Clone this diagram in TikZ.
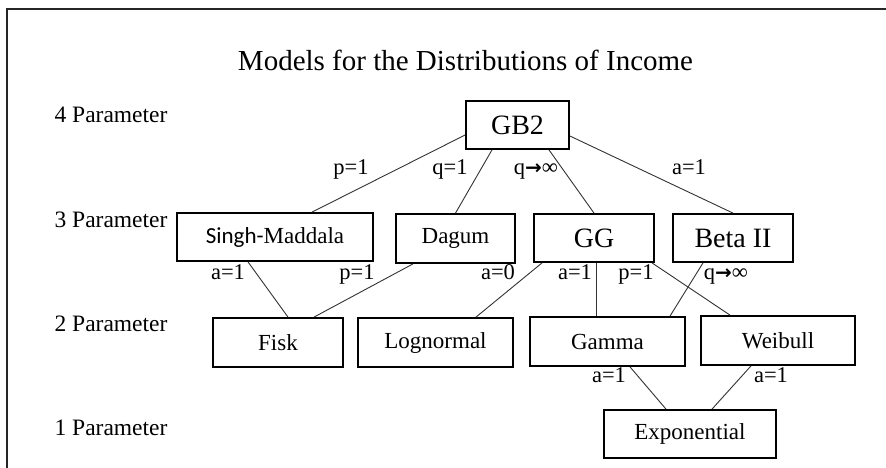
\documentclass[tikz,border=0pt]{standalone}
\usepackage{fontspec}
\setmainfont{Liberation Serif}
\newfontfamily\carlito{Carlito}
\newfontfamily\arrowfont{DejaVu Sans Bold}
\newcommand{\qarrow}{{\arrowfont\fontsize{20}{24}\selectfont →}}
\usetikzlibrary{calc}
\tikzset{
  box/.style={draw=black, line width=1.8pt, inner sep=0pt, font=\fontsize{23}{27}\selectfont},
  bigbox/.style={box, font=\fontsize{28}{32}\selectfont},
  conn/.style={draw=black!80, line width=0.9pt},
  elabel/.style={anchor=base, inner sep=0pt, font=\fontsize{22.5}{26}\selectfont},
  rowlabel/.style={anchor=base, inner sep=0pt, font=\fontsize{23.5}{27}\selectfont},
  frame/.style={draw=black!85, line width=2pt}
}
\begin{document}
\begin{tikzpicture}[x=1pt,y=-1pt]
\path[use as bounding box, fill=white] (0,0) rectangle (886,468);
\draw[frame] (890,9) -- (7,9) -- (7,472);

\node[anchor=base, inner sep=0pt, font=\fontsize{29}{33}\selectfont] (title) at (465.5,71) {Models for the Distributions of Income};

\node[rowlabel] (r4) at (111,123) {4 Parameter};
\node[rowlabel] (r3) at (111,227) {3 Parameter};
\node[rowlabel] (r2) at (111,331) {2 Parameter};
\node[rowlabel] (r1) at (111,435) {1 Parameter};

\node[bigbox, minimum width=103pt, minimum height=48pt] (gb2) at (517.5,125) {GB2};
\node[box, minimum width=196pt, minimum height=48pt] (singh) at (275,237) {{\carlito Singh-}Maddala};
\node[box, minimum width=119pt, minimum height=49pt] (dagum) at (455.5,238.5) {Dagum};
\node[bigbox, minimum width=120pt, minimum height=48pt] (gg) at (594,238) {GG};
\node[bigbox, minimum width=120pt, minimum height=48pt] (beta) at (733,238) {Beta II};
\node[box, minimum width=130pt, minimum height=49pt] (fisk) at (278,342.5) {Fisk};
\node[box, minimum width=155pt, minimum height=49pt] (logn) at (435.5,342.5) {Lognormal};
\node[box, minimum width=155pt, minimum height=49pt] (gamma) at (607.5,341.5) {Gamma};
\node[box, minimum width=154pt, minimum height=49pt] (weib) at (778,340.5) {Weibull};
\node[box, minimum width=172pt, minimum height=48pt] (expo) at (690,434) {Exponential};

\draw[conn] ($(gb2.west)+(0,10)$) -- ($(singh.north)+(37,0)$);
\draw[conn] ($(gb2.south)+(-25.5,0)$) -- (dagum.north);
\draw[conn] ($(gb2.south)+(31.5,0)$) -- (gg.north);
\draw[conn] ($(gb2.east)+(0,11)$) -- (beta.north);
\draw[conn] ($(singh.south)+(-27,0)$) -- ($(fisk.north)+(10,0)$);
\draw[conn] ($(dagum.south)+(-42.5,0)$) -- ($(fisk.north)+(36,0)$);
\draw[conn] ($(gg.south)+(-52,0)$) -- ($(logn.north)+(40.5,0)$);
\draw[conn] ($(gg.south)+(2,0)$) -- ($(gamma.north)+(-11.5,0)$);
\draw[conn] ($(gg.south)+(58,0)$) -- ($(weib.north)+(-48,0)$);
\draw[conn] ($(beta.south)+(-30,0)$) -- ($(gamma.north)+(62.5,0)$);
\draw[conn] ($(gamma.south)+(22.5,0)$) -- ($(expo.north)+(-24,0)$);
\draw[conn] ($(weib.south)+(-27,0)$) -- ($(expo.north)+(22,0)$);

\node[elabel] (l1) at (351,175) {p=1};
\node[elabel] (l2) at (450,175) {q=1};
\node[elabel] (l3) at (536,175) {q\qarrow∞};
\node[elabel] (l4) at (689,175) {a=1};
\node[elabel] (l5) at (228,279) {a=1};
\node[elabel] (l6) at (357,279) {p=1};
\node[elabel] (l7) at (498,279) {a=0};
\node[elabel] (l8) at (575,279) {a=1};
\node[elabel] (l9) at (636,279) {p=1};
\node[elabel] (l10) at (726,279) {q\qarrow∞};
\node[elabel] (l11) at (609,382) {a=1};
\node[elabel] (l12) at (771,382) {a=1};
\end{tikzpicture}
\end{document}
